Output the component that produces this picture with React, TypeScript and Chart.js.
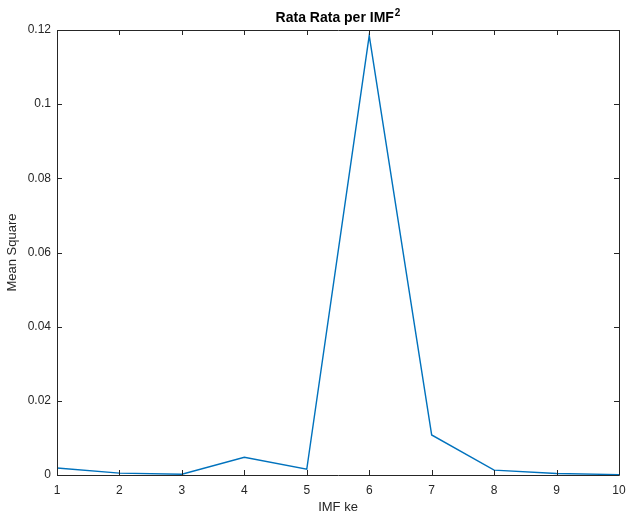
import React, { useEffect, useRef } from "react";
import { Chart, registerables } from "chart.js";

Chart.register(...registerables);

const imfIndex = [1, 2, 3, 4, 5, 6, 7, 8, 9, 10];
const meanSquare = [0.0019, 0.0005, 0.0002, 0.0048, 0.0016, 0.1185, 0.0108, 0.0013, 0.0004, 0.0001];
const xTicks = [1, 2, 3, 4, 5, 6, 7, 8, 9, 10];
const yTicks = [0, 0.02, 0.04, 0.06, 0.08, 0.1, 0.12];
const titleMain = "Rata Rata per IMF";
const titleSup = "2";

const AXIS_COLOR = "#262626";
const LINE_COLOR = "#0072BD";
const FONT = "'Liberation Sans', Arial, Helvetica, sans-serif";

const boxPlugin = {
  id: "matlabBox",
  afterDraw(chart: any) {
    const { ctx, chartArea, scales } = chart;
    const { left, right, top, bottom } = chartArea;
    const tl = 5;
    ctx.save();
    ctx.strokeStyle = AXIS_COLOR;
    ctx.lineWidth = 1;
    ctx.beginPath();
    ctx.rect(Math.round(left) + 0.5, Math.round(top) + 0.5, Math.round(right - left), Math.round(bottom - top));
    ctx.stroke();
    ctx.beginPath();
    xTicks.forEach((v) => {
      const x = Math.round(scales.x.getPixelForValue(v)) + 0.5;
      ctx.moveTo(x, bottom);
      ctx.lineTo(x, bottom - tl);
      ctx.moveTo(x, top);
      ctx.lineTo(x, top + tl);
    });
    yTicks.forEach((v) => {
      const y = Math.round(scales.y.getPixelForValue(v)) + 0.5;
      ctx.moveTo(left, y);
      ctx.lineTo(left + tl, y);
      ctx.moveTo(right, y);
      ctx.lineTo(right - tl, y);
    });
    ctx.stroke();

    // title centred on the plot area, with superscript
    const mainFont = `bold 14px ${FONT}`;
    const supFont = `bold 10px ${FONT}`;
    ctx.font = mainFont;
    const wMain = ctx.measureText(titleMain).width;
    ctx.font = supFont;
    const wSup = ctx.measureText(titleSup).width;
    const cx = (left + right) / 2;
    const x0 = cx - (wMain + wSup + 1) / 2;
    ctx.fillStyle = "#000";
    ctx.textBaseline = "alphabetic";
    ctx.textAlign = "left";
    ctx.font = mainFont;
    ctx.fillText(titleMain, x0, 22);
    ctx.font = supFont;
    ctx.fillText(titleSup, x0 + wMain + 1, 16);
    ctx.restore();
  },
};

export default function App() {
  const ref = useRef<HTMLCanvasElement>(null);
  useEffect(() => {
    document.body.style.margin = "0";
    const chart = new Chart(ref.current!, {
      type: "line",
      data: {
        datasets: [
          {
            data: imfIndex.map((x, i) => ({ x, y: meanSquare[i] })),
            borderColor: LINE_COLOR,
            borderWidth: 1.4,
            pointRadius: 0,
            fill: false,
            tension: 0,
          },
        ],
      },
      options: {
        responsive: false,
        animation: false,
        layout: { padding: { left: 0, right: 7, top: 30, bottom: 0 } },
        plugins: {
          legend: { display: false },
          tooltip: { enabled: false },
          title: { display: false },
        },
        scales: {
          x: {
            type: "linear",
            min: 1,
            max: 10,
            afterFit: (s: any) => {
              s.height = 40;
              s.paddingLeft = 0;
              s.paddingRight = 0;
            },
            afterBuildTicks: (s: any) => { s.ticks = xTicks.map((v) => ({ value: v })); },
            grid: { display: false, drawTicks: false },
            border: { display: false },
            ticks: { color: AXIS_COLOR, font: { family: FONT, size: 12 }, padding: 8, maxRotation: 0 },
            title: {
              display: true,
              text: "IMF ke",
              color: AXIS_COLOR,
              font: { family: FONT, size: 13 },
              padding: { top: 0, bottom: 0 },
            },
          },
          y: {
            type: "linear",
            min: 0,
            max: 0.12,
            afterFit: (s: any) => {
              s.width = 57;
              s.paddingTop = 0;
              s.paddingBottom = 0;
            },
            afterBuildTicks: (s: any) => { s.ticks = yTicks.map((v) => ({ value: v })); },
            grid: { display: false, drawTicks: false },
            border: { display: false },
            ticks: {
              color: AXIS_COLOR,
              font: { family: FONT, size: 12 },
              padding: 6,
              callback: (v: any) => String(Number(v.toFixed(4))),
            },
            title: {
              display: true,
              text: "Mean Square",
              color: AXIS_COLOR,
              font: { family: FONT, size: 13 },
              padding: { top: 5, bottom: 0 },
            },
          },
        },
      },
      plugins: [boxPlugin],
    });
    return () => chart.destroy();
  }, []);
  return (
    <div style={{ position: "absolute", left: 0, top: 0, width: 626, height: 515, background: "#fff" }}>
      <canvas ref={ref} width={626} height={515} />
    </div>
  );
}
